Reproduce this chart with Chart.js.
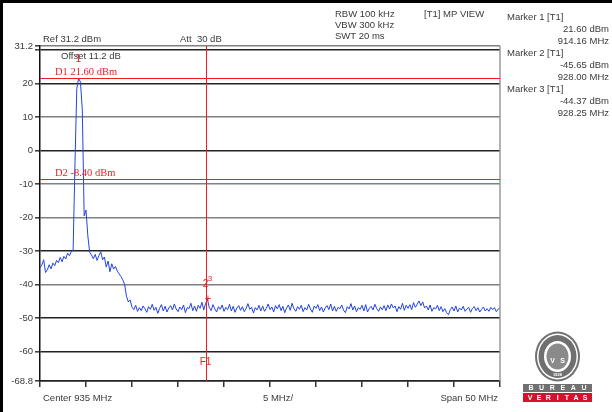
<!DOCTYPE html>
<html>
<head>
<meta charset="utf-8">
<script src="https://cdn.jsdelivr.net/npm/chart.js@4/dist/chart.umd.min.js"></script>
<style>
    body { margin: 0; background: #fff; }
    canvas { display: block; }
</style>
</head>
<body>
<canvas id="spectrumChart" width="612" height="412"></canvas>
<script>
// sweep grid of the analyzer trace: 910 .. 960 MHz, one point every 0.2 MHz
var sweepStartMHz = 910;
var sweepStepMHz = 0.2;

// trace levels in dBm
var traceLevels = [
    -35.0, -34.2, -32.6, -36.4, -35.6, -34.1, -35.3, -33.6, -34.4, -32.8,
    -33.5, -31.9, -33.2, -31.6, -32.4, -30.6, -31.4, -30.2, -29.8, -4.0,
    18.5, 21.6, 20.4, 12.0, -19.5, -17.8, -25.5, -30.4, -31.2, -32.3,
    -31.0, -32.8, -31.4, -30.2, -32.6, -31.8, -34.8, -33.0, -36.2, -33.8,
    -35.4, -34.6, -36.0, -36.8, -37.6, -38.6, -40.0, -43.5, -45.2, -44.6,
    -46.8,
    -47.5, -46.2, -48.0, -46.9, -47.8, -46.4, -47.2, -48.3, -46.6, -47.4,
    -45.9, -47.7, -46.8, -48.6, -47.1, -46.0, -47.9, -46.5, -48.2, -47.0,
    -46.3, -47.6, -45.8, -47.3, -48.1, -46.7, -47.5, -46.1, -48.4, -46.9,
    -47.2, -45.6, -47.8, -46.4, -48.0, -46.2, -47.1, -45.3, -47.6, -45.65,
    -44.4, -46.9, -47.8, -46.0, -47.3, -48.2, -46.6, -47.4, -46.1, -48.0,
    -46.8, -47.5, -45.9, -47.9, -46.5, -48.3, -47.0, -46.3, -47.7, -46.6,
    -48.1, -47.2, -45.7, -47.4, -46.8, -48.5, -46.9, -47.6, -46.2, -47.9,
    -46.4, -48.0, -47.1, -45.8, -47.5, -46.7, -48.2, -46.3, -47.3, -46.0,
    -47.8, -46.5, -48.4, -47.0, -46.1, -47.7, -45.6, -47.2, -48.0, -46.6,
    -47.4, -46.2, -48.1, -46.9, -47.6, -45.9, -47.3, -48.3, -46.4, -47.1,
    -46.0, -47.8, -46.7, -48.2, -47.0, -46.3, -47.5, -45.8, -47.9, -46.5,
    -48.0, -46.8, -47.2, -46.1, -47.7, -48.4, -46.6, -47.3, -45.7, -47.6,
    -46.4, -48.1, -46.9, -47.4, -46.2, -47.9, -46.0, -48.2, -47.1, -46.5,
    -47.6, -45.9, -47.2, -48.0, -46.7, -47.5, -46.3, -47.8, -46.1, -47.3,
    -45.8, -47.0, -46.4, -48.1, -46.6, -47.4, -45.6, -47.7, -46.2, -47.1,
    -46.0, -47.5, -45.4, -46.8, -45.9, -44.9, -46.3, -45.2, -47.0, -46.4,
    -47.6, -46.1, -48.0, -46.9, -47.3, -46.2, -47.8, -46.6, -48.1, -47.2,
    -48.4, -49.0, -47.5, -46.7, -47.9, -46.4, -48.2, -47.0, -47.6, -46.5,
    -48.0, -47.3, -46.8, -48.3, -47.1, -46.6, -47.8, -46.9, -48.2, -47.4,
    -46.7, -47.9, -47.2, -48.0, -46.8, -47.5, -46.9, -48.1, -47.3, -47.0
];

var yTickValues = [31.2, 30, 20, 10, 0, -10, -20, -30, -40, -50, -60, -68.8];
var yTickLabels = ['31.2', '', '20', '10', '0', '-10', '-20', '-30', '-40', '-50', '-60', '-68.8'];
var greyGridValues = [31.2, 10, -10, -20, -40];
var xTickValues = [910, 915, 920, 925, 930, 935, 940, 945, 950, 955, 960];

var markerNames = ['Marker 1 [T1]', 'Marker 2 [T1]', 'Marker 3 [T1]'];
var markerFreqs = [914.16, 928.00, 928.25];
var markerLevels = [21.60, -45.65, -44.37];

var displayLineLevels = [21.6, -8.4];
var displayLineLabels = ['D1 21.60 dBm', 'D2 -8.40 dBm'];
var freqLineValues = [928];
var freqLineLabels = ['F1'];

var settingsLines = ['RBW 100 kHz', 'VBW 300 kHz', 'SWT 20 ms'];

var textColor = '#3a3a3a';
var redColor = '#ee1c24';
var sansFont = '"Liberation Sans", Arial, sans-serif';

function drawText(ctx, text, x, y, align, font, color) {
    ctx.font = font;
    ctx.fillStyle = color;
    ctx.textAlign = align;
    ctx.textBaseline = 'middle';
    ctx.fillText(text, x, y);
}

var analyzerPlugin = {
    id: 'analyzerOverlay',
    afterDatasetsDraw: function (chart) {
        var ctx = chart.ctx;
        var area = chart.chartArea;
        var xs = chart.scales.x;
        var ys = chart.scales.y;
        ctx.save();

        // right border of the plot
        ctx.strokeStyle = '#9a9a9a';
        ctx.lineWidth = 1.5;
        ctx.beginPath();
        ctx.moveTo(area.right, area.top);
        ctx.lineTo(area.right, area.bottom);
        ctx.stroke();

        // display lines D1 / D2
        ctx.strokeStyle = redColor;
        ctx.lineWidth = 1;
        displayLineLevels.forEach(function (level, i) {
            var py = Math.round(ys.getPixelForValue(level)) + 0.5;
            ctx.beginPath();
            ctx.moveTo(area.left, py);
            ctx.lineTo(area.right, py);
            ctx.stroke();
            drawText(ctx, displayLineLabels[i], area.left + 15, py - 6, 'left',
                '10.5px "Liberation Serif", "Times New Roman", serif', redColor);
        });

        // frequency line F1
        freqLineValues.forEach(function (freq, i) {
            var px = Math.round(xs.getPixelForValue(freq)) + 0.5;
            ctx.strokeStyle = redColor;
            ctx.beginPath();
            ctx.moveTo(px, area.top);
            ctx.lineTo(px, area.bottom);
            ctx.stroke();
            drawText(ctx, freqLineLabels[i], px - 1, area.bottom - 19, 'center', '10px ' + sansFont, redColor);
        });

        // marker labels on the trace
        markerFreqs.forEach(function (freq, i) {
            var px = xs.getPixelForValue(freq);
            var py = ys.getPixelForValue(markerLevels[i]);
            if (i === 2) {
                drawText(ctx, '3', px + 2, py - 20, 'center', '8px ' + sansFont, redColor);
                drawText(ctx, '+', px, py, 'center', '11px ' + sansFont, redColor);
            } else {
                drawText(ctx, String(i + 1), px, py - 19, 'center', '10px ' + sansFont, redColor);
            }
        });

        // header texts
        var small = '9.5px ' + sansFont;
        drawText(ctx, 'Ref 31.2 dBm', 43, 39, 'left', small, textColor);
        drawText(ctx, 'Att  30 dB', 180, 39, 'left', small, textColor);
        drawText(ctx, 'Offset 11.2 dB', 61, 56, 'left', small, textColor);
        settingsLines.forEach(function (line, i) {
            drawText(ctx, line, 335, 14 + i * 11.3, 'left', small, textColor);
        });
        drawText(ctx, '[T1] MP VIEW', 424, 14, 'left', small, textColor);

        // marker readouts
        markerNames.forEach(function (name, i) {
            var top = 17 + i * 36;
            drawText(ctx, name, 507, top, 'left', small, textColor);
            drawText(ctx, markerLevels[i].toFixed(2) + ' dBm', 609, top + 12, 'right', small, textColor);
            drawText(ctx, markerFreqs[i].toFixed(2) + ' MHz', 609, top + 24, 'right', small, textColor);
        });

        // footer texts
        drawText(ctx, 'Center 935 MHz', 43, 398, 'left', small, textColor);
        drawText(ctx, '5 MHz/', 263, 398, 'left', small, textColor);
        drawText(ctx, 'Span 50 MHz', 498, 398, 'right', small, textColor);

        ctx.restore();
    },
    afterDraw: function (chart) {
        var ctx = chart.ctx;
        ctx.save();

        // black frame of the screenshot
        ctx.fillStyle = '#000';
        ctx.fillRect(0, 0, 612, 3);
        ctx.fillRect(0, 0, 3, 412);

        // Bureau Veritas seal
        var cx = 557.5, cy = 356.5;
        var grey = '#707070';
        function ellipse(rx, ry, color) {
            ctx.fillStyle = color;
            ctx.beginPath();
            ctx.ellipse(cx, cy, rx, ry, 0, 0, Math.PI * 2);
            ctx.fill();
        }
        ellipse(22.5, 25, grey);
        ellipse(20.5, 23, '#fff');
        ellipse(19, 21.5, grey);
        ellipse(13.5, 15.5, '#fff');
        ellipse(11, 13, '#8a8a8a');
        drawText(ctx, '1828', cx, cy + 18, 'center', 'bold 4px ' + sansFont, '#fff');
        drawText(ctx, 'V', cx - 5, cy + 5, 'center', 'bold 7px ' + sansFont, '#fff');
        drawText(ctx, 'S', cx + 5, cy + 5, 'center', 'bold 7px ' + sansFont, '#fff');

        ctx.fillStyle = grey;
        ctx.fillRect(523, 384, 69, 8);
        ctx.fillStyle = '#d4122e';
        ctx.fillRect(523, 393, 69, 9);
        var barFont = 'bold 7px ' + sansFont;
        'BUREAU'.split('').forEach(function (ch, i) {
            drawText(ctx, ch, 531 + i * 10.6, 388.2, 'center', barFont, '#fff');
        });
        'VERITAS'.split('').forEach(function (ch, i) {
            drawText(ctx, ch, 530 + i * 9.2, 397.7, 'center', barFont, '#fff');
        });
        ctx.restore();
    }
};

var tracePoints = traceLevels.map(function (level, i) {
    return { x: sweepStartMHz + i * sweepStepMHz, y: level };
});

var chart = new Chart(document.getElementById('spectrumChart'), {
    type: 'line',
    data: {
        datasets: [{
            label: 'Trace 1',
            data: tracePoints,
            borderColor: '#2244dd',
            borderWidth: 1,
            pointRadius: 0,
            tension: 0,
            fill: false
        }]
    },
    options: {
        responsive: false,
        animation: false,
        devicePixelRatio: 1,
        layout: {
            padding: { left: 0, right: 112, top: 46, bottom: 0 }
        },
        plugins: {
            legend: { display: false },
            tooltip: { enabled: false },
            title: { display: false }
        },
        scales: {
            x: {
                type: 'linear',
                min: 910,
                max: 960,
                afterBuildTicks: function (scale) {
                    scale.ticks = xTickValues.map(function (v) { return { value: v }; });
                },
                afterFit: function (scale) {
                    scale.height = 31;
                },
                ticks: { display: false },
                grid: {
                    drawOnChartArea: false,
                    drawTicks: true,
                    tickLength: 6,
                    tickColor: '#333',
                    lineWidth: 1.5
                },
                border: { display: true, color: '#222', width: 1.5 }
            },
            y: {
                type: 'linear',
                min: -68.8,
                max: 31.2,
                afterBuildTicks: function (scale) {
                    scale.ticks = yTickValues.map(function (v) { return { value: v }; });
                },
                afterFit: function (scale) {
                    scale.width = 40;
                },
                ticks: {
                    padding: 2,
                    color: textColor,
                    font: { family: '"Liberation Sans", Arial, sans-serif', size: 9.5 },
                    callback: function (value, index) {
                        return yTickLabels[index];
                    }
                },
                grid: {
                    tickLength: 5,
                    lineWidth: 1.6,
                    color: function (c) {
                        if (!c.tick) return '#222';
                        return greyGridValues.indexOf(c.tick.value) >= 0 ? '#808080' : '#222';
                    },
                    tickColor: '#444'
                },
                border: { display: true, color: '#111', width: 1.5 }
            }
        }
    },
    plugins: [analyzerPlugin]
});
</script>
</body>
</html>
